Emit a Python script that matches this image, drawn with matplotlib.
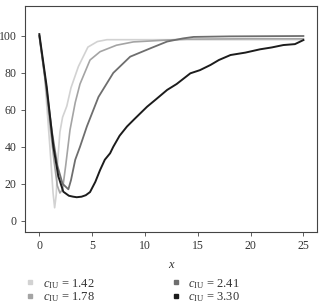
import matplotlib
matplotlib.use("Agg")
import matplotlib.pyplot as plt
from matplotlib.lines import Line2D

plt.rcParams['font.family'] = ['Liberation Serif', 'DejaVu Serif']
plt.rcParams['mathtext.fontset'] = 'custom'
plt.rcParams['mathtext.rm'] = 'Liberation Serif'
plt.rcParams['mathtext.it'] = 'Liberation Serif:italic'

labels = [r"$c_{\mathrm{IU}}$ = 1.42", r"$c_{\mathrm{IU}}$ = 1.78",
          r"$c_{\mathrm{IU}}$ = 2.41", r"$c_{\mathrm{IU}}$ = 3.30"]
colors = ["#d2d2d2", "#a4a4a4", "#6e6e6e", "#1c1c1c"]

x1 = [0, 0.5, 1.0, 1.3, 1.45, 1.6, 1.75, 1.95, 2.2, 2.6, 3.0, 3.7, 4.6, 5.5, 6.4, 10, 15, 20, 25]
y1 = [100, 78, 40, 15, 7, 14, 33, 48, 56, 62, 72, 83.5, 94, 97, 98, 98, 98, 98, 98]

x2 = [0, 0.5, 1.0, 1.4, 1.7, 1.95, 2.2, 2.5, 2.9, 3.4, 3.85, 4.8, 5.75, 7.3, 8.9, 12.1, 14, 20, 25]
y2 = [100, 79, 52, 32, 19, 15, 17, 30, 49, 64, 74, 87, 91.5, 95, 96.8, 97.8, 98.3, 98.5, 98.5]

x3 = [0, 0.6, 1.2, 1.7, 2.2, 2.75, 3.0, 3.4, 3.85, 4.5, 5.6, 7.0, 8.6, 10.5, 12.1, 13.6, 14.6, 18, 25]
y3 = [100, 75, 48, 30, 20, 17, 22, 33, 40, 51, 67, 80, 88.8, 93.3, 97, 98.7, 99.5, 99.8, 100]

x4 = [0, 0.7, 1.33, 1.8, 2.27, 2.8, 3.2, 3.54, 4.0, 4.4, 4.8, 5.3, 5.75, 6.2, 6.7, 7.0, 7.6, 8.3, 9.0,
      10.2, 11.0, 12.1, 13.0, 14.3, 15.2, 16.2, 17.0, 18.1, 19.5, 20.9, 22.0, 23.1, 24.2, 25]
y4 = [101, 72.5, 40, 24, 15.7, 13.5, 13, 12.7, 13, 13.8, 15.5, 21, 27.4, 33, 36.5, 40, 46, 51, 55,
      61.7, 65.5, 70.8, 74, 79.8, 81.5, 84.3, 87, 89.7, 91, 92.8, 93.8, 95.1, 95.6, 97.8]

xs = [x1, x2, x3, x4]
ys = [y1, y2, y3, y4]
widths = [1.2, 1.2, 1.3, 1.4]

fig = plt.figure(figsize=(3.2, 3.04), dpi=100)
ax = fig.add_axes([0.078, 0.237, 0.913, 0.743])
for x, y, c, lw in zip(xs, ys, colors, widths):
    ax.plot(x, y, color=c, lw=lw)

ax.set_xlim(-1.36, 26.3)
ax.set_ylim(-6.1, 116.2)
ax.set_xticks([0, 5, 10, 15, 20, 25])
ax.set_yticks([0, 20, 40, 60, 80, 100])
for s in ax.spines.values():
    s.set_color("#444444")
    s.set_linewidth(0.8)
ax.tick_params(labelsize=8.5, colors="#444444", length=3, width=0.6, labelcolor="#333333", pad=3)
ax.set_xlabel("x", fontstyle="italic", fontsize=9, color="#333333", labelpad=5)

handles = [Line2D([], [], marker='s', ls='', color=c, markersize=3) for c in colors]
fig.legend(handles, labels, loc='upper left', bbox_to_anchor=(0.055, 0.11), ncol=2,
           frameon=False, fontsize=9, handletextpad=0.5, columnspacing=6.0,
           labelspacing=0.0, borderpad=0, handlelength=1.0, labelcolor="#333333")

fig.savefig("out.png", dpi=100)
